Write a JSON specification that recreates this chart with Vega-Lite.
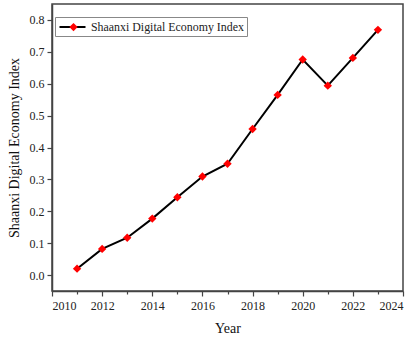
{
  "$schema": "https://vega.github.io/schema/vega-lite/v6.json",
  "autosize": "none",
  "width": 351,
  "height": 287,
  "padding": {"left": 52, "top": 4, "right": 11, "bottom": 50},
  "background": "white",
  "config": {
    "font": "Liberation Serif",
    "view": {"stroke": "#444", "strokeWidth": 1.5},
    "axis": {"grid": false, "domainColor": "#444", "domainWidth": 1.5, "tickColor": "#444", "tickWidth": 1.2, "labelFont": "Liberation Serif", "labelFontSize": 12, "labelColor": "#222", "titleFont": "Liberation Serif", "titleFontSize": 14, "titleFontWeight": "normal", "titleColor": "#111"}
  },
  "data": {"values": [
    {"year": 2011, "index": 0.020, "s": "Shaanxi Digital Economy Index"},
    {"year": 2012, "index": 0.082, "s": "Shaanxi Digital Economy Index"},
    {"year": 2013, "index": 0.117, "s": "Shaanxi Digital Economy Index"},
    {"year": 2014, "index": 0.177, "s": "Shaanxi Digital Economy Index"},
    {"year": 2015, "index": 0.244, "s": "Shaanxi Digital Economy Index"},
    {"year": 2016, "index": 0.309, "s": "Shaanxi Digital Economy Index"},
    {"year": 2017, "index": 0.349, "s": "Shaanxi Digital Economy Index"},
    {"year": 2018, "index": 0.458, "s": "Shaanxi Digital Economy Index"},
    {"year": 2019, "index": 0.565, "s": "Shaanxi Digital Economy Index"},
    {"year": 2020, "index": 0.676, "s": "Shaanxi Digital Economy Index"},
    {"year": 2021, "index": 0.594, "s": "Shaanxi Digital Economy Index"},
    {"year": 2022, "index": 0.681, "s": "Shaanxi Digital Economy Index"},
    {"year": 2023, "index": 0.769, "s": "Shaanxi Digital Economy Index"}
  ]},
  "encoding": {
    "x": {"field": "year", "type": "quantitative", "title": "Year",
      "scale": {"domain": [2010, 2024], "nice": false, "zero": false},
      "axis": {"values": [2010,2011,2012,2013,2014,2015,2016,2017,2018,2019,2020,2021,2022,2023,2024],
        "labelExpr": "datum.value % 2 === 0 ? datum.value : ''", "format": "d",
        "tickSize": {"condition": {"test": "datum.value % 2 === 0", "value": 5}, "value": 3},
        "labelPadding": 4, "titlePadding": 10}},
    "y": {"field": "index", "type": "quantitative", "title": "Shaanxi Digital Economy Index",
      "scale": {"domain": [-0.05, 0.85], "nice": false, "zero": false},
      "axis": {"values": [0, 0.1, 0.2, 0.3, 0.4, 0.5, 0.6, 0.7, 0.8], "format": ".1f", "tickSize": 5, "labelPadding": 3, "titlePadding": 8}}
  },
  "layer": [
    {"mark": {"type": "line", "strokeWidth": 2},
     "encoding": {"stroke": {"field": "s", "type": "nominal", "scale": {"range": ["black"]},
       "legend": {"title": null, "orient": "none", "legendX": 3, "legendY": 13, "symbolType": "M-2,0L2,0", "symbolSize": 169, "symbolOffset": 7.5, "symbolStrokeWidth": 2, "labelFontSize": 11.9, "labelLimit": 400, "labelFont": "Liberation Serif", "labelColor": "#222", "strokeColor": "#888", "fillColor": "white", "padding": 2.5, "labelOffset": 11}}}},
    {"mark": {"type": "point", "shape": "diamond", "filled": true, "size": 70, "opacity": 1},
     "encoding": {"fill": {"field": "s", "type": "nominal", "scale": {"range": ["#ff0000"]},
       "legend": {"title": null, "orient": "none", "legendX": 13.5, "legendY": 15.1, "symbolType": "diamond", "symbolSize": 70, "symbolStrokeWidth": 0, "labelExpr": "''", "padding": 3, "labelOffset": 0}}}}
  ]
}
